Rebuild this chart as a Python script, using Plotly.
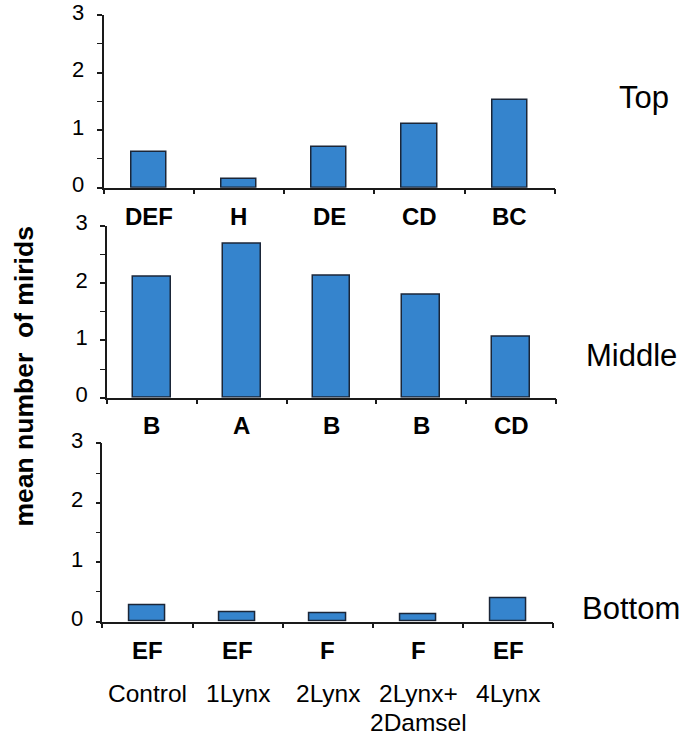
import plotly.graph_objects as go

# Mean mirid counts per treatment, by canopy stratum
treatments = ["Control", "1Lynx", "2Lynx", "2Lynx+<br>2Damsel", "4Lynx"]
strata = ["Top", "Middle", "Bottom"]
top_means = [0.62, 0.15, 0.71, 1.11, 1.53]
middle_means = [2.11, 2.69, 2.13, 1.79, 1.06]
bottom_means = [0.27, 0.16, 0.14, 0.13, 0.40]
top_groups = ["DEF", "H", "DE", "CD", "BC"]
middle_groups = ["B", "A", "B", "B", "CD"]
bottom_groups = ["EF", "EF", "F", "F", "EF"]
y_ticks = [0, 1, 2, 3]

W, H = 685, 735
FONT = "Liberation Sans, Arial, Helvetica, sans-serif"
BAR_FILL = "#3584CD"
BAR_EDGE = "#1b2638"
AXIS = "#1a1a1a"

# pixel geometry of each panel: plot-area box, bar width, letter row, side label
panels = [
    dict(means=top_means, groups=top_groups, x0=103.5, x1=555.0, ytop=15.0, ybot=187.7,
         bw=0.39, let_y=216.5, lab_x=643.5, lab_y=98.0),
    dict(means=middle_means, groups=middle_groups, x0=107.0, x1=556.0, ytop=225.7, ybot=397.7,
         bw=0.42, let_y=425.0, lab_x=631.5, lab_y=355.0),
    dict(means=bottom_means, groups=bottom_groups, x0=102.3, x1=553.3, ytop=443.3, ybot=621.7,
         bw=0.40, let_y=650.0, lab_x=631.0, lab_y=608.5),
]

n = len(treatments)
xs = list(range(n))
boundaries = [i - 0.5 for i in range(n + 1)]

fig = go.Figure()
annotations = []
layout_axes = {}

for k, (p, name) in enumerate(zip(panels, strata), start=1):
    sx = "" if k == 1 else str(k)
    xref, yref = "x" + sx, "y" + sx
    fig.add_trace(go.Bar(
        x=xs, y=p["means"], width=p["bw"],
        marker=dict(color=BAR_FILL, line=dict(color=BAR_EDGE, width=1.5)),
        xaxis=xref, yaxis=yref, showlegend=False, hoverinfo="skip",
    ))
    layout_axes["xaxis" + sx] = dict(
        domain=[p["x0"] / W, p["x1"] / W], range=[-0.5, n - 0.5], anchor=yref,
        automargin=False,
        showline=True, linecolor=AXIS, linewidth=1.5, showgrid=False, zeroline=False,
        tickmode="array", tickvals=boundaries, ticktext=[""] * len(boundaries),
        ticks="outside", ticklen=5, tickwidth=1.5, tickcolor=AXIS, fixedrange=True,
    )
    layout_axes["yaxis" + sx] = dict(
        domain=[1 - p["ybot"] / H, 1 - p["ytop"] / H], range=[0, 3], anchor=xref,
        automargin=False, ticklabeloverflow="allow",
        showline=True, linecolor=AXIS, linewidth=1.5, showgrid=False, zeroline=False,
        tickmode="array", tickvals=y_ticks, ticks="outside", ticklen=5, tickwidth=1.5,
        tickcolor=AXIS, tickfont=dict(family=FONT, size=22, color="#000"),
        ticklabelstandoff=8, ticklabelshift=-3,
        minor=dict(dtick=0.5, tick0=0, ticks="outside", ticklen=5, tickwidth=1.2,
                   tickcolor=AXIS, showgrid=False),
        fixedrange=True,
    )
    # significance letters under each bar
    for i, g in enumerate(p["groups"]):
        annotations.append(dict(
            x=i, y=1 - p["let_y"] / H, xref=xref, yref="paper",
            text="<b>%s</b>" % g, showarrow=False, xanchor="center", yanchor="middle",
            font=dict(family=FONT, size=24, color="#000"),
        ))
    # stratum label on the right
    annotations.append(dict(
        x=p["lab_x"] / W, y=1 - p["lab_y"] / H, xref="paper", yref="paper",
        text=name, showarrow=False, xanchor="center", yanchor="middle",
        font=dict(family=FONT, size=31, color="#000"),
    ))

# treatment names below the bottom panel (multi-line names set with tight leading)
for i, t in enumerate(treatments):
    for j, line in enumerate(t.split("<br>")):
        annotations.append(dict(
            x=i, y=1 - (693.5 + 28.5 * j) / H, xref="x3", yref="paper",
            text=line, showarrow=False, xanchor="center", yanchor="middle",
            font=dict(family=FONT, size=24.5, color="#000"),
        ))

# shared y-axis title
annotations.append(dict(
    x=23.0 / W, y=1 - 376.5 / H, xref="paper", yref="paper",
    text="<b>mean number  of mirids</b>", textangle=-90, showarrow=False,
    xanchor="center", yanchor="middle",
    font=dict(family=FONT, size=26.5, color="#000"),
))

fig.update_layout(
    template="none",
    width=W, height=H, margin=dict(l=0, r=0, t=0, b=0, autoexpand=False),
    paper_bgcolor="white", plot_bgcolor="white",
    bargap=0, annotations=annotations, **layout_axes,
)

fig.write_html("out.html", config={"displayModeBar": False})
